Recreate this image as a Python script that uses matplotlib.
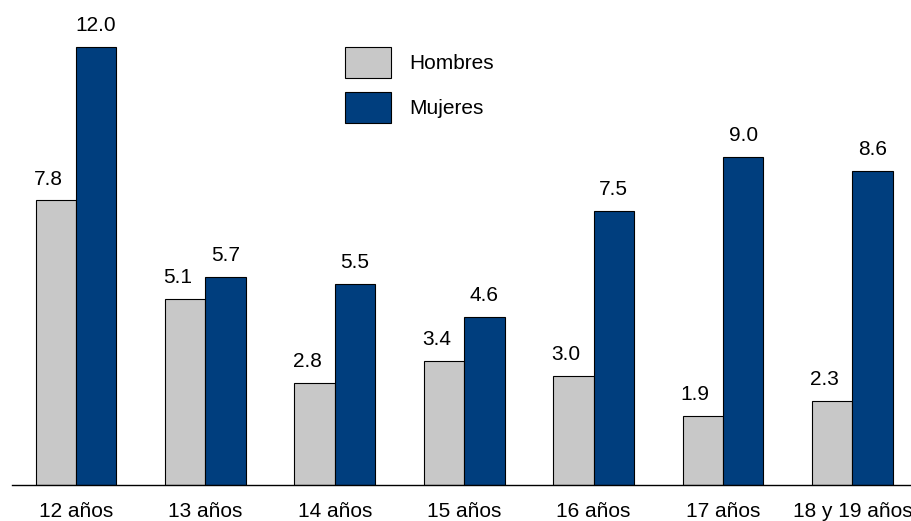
import matplotlib.pyplot as plt
import numpy as np

plt.rcParams['font.family'] = ['Liberation Sans', 'DejaVu Sans']

categorias = ["12 años", "13 años", "14 años", "15 años", "16 años", "17 años", "18 y 19 años"]
hombres = [7.8, 5.1, 2.8, 3.4, 3.0, 1.9, 2.3]
mujeres = [12.0, 5.7, 5.5, 4.6, 7.5, 9.0, 8.6]

gris = "#C8C8C8"
azul = "#003E7E"

fig = plt.figure(figsize=(9.12, 5.21), dpi=100)
ax = fig.add_axes([12/912, 1 - 485/521, 1 - 12/912, 485/521])

x = np.arange(len(categorias))
w = 0.312
b1 = ax.bar(x - w/2, hombres, w, color=gris, edgecolor="black", linewidth=0.8, label="Hombres")
b2 = ax.bar(x + w/2, mujeres, w, color=azul, edgecolor="black", linewidth=0.8, label="Mujeres")

# etiquetas de hombres algo corridas a la izquierda, como en el original
for barras, vals, dx in [(b1, hombres, -5.5), (b2, mujeres, 0)]:
    for r, v in zip(barras, vals):
        ax.annotate(f"{v:.1f}", (r.get_x() + r.get_width()/2, r.get_height()),
                    xytext=(dx, 8.5), textcoords="offset points",
                    ha="center", va="bottom", fontsize=15)

ax.set_xlim(-0.494, 6.46)
ax.set_ylim(0, 13.29)
ax.set_xticks(x)
ax.set_xticklabels(categorias, fontsize=15)
ax.tick_params(axis="x", length=0, pad=12)
ax.set_yticks([])
for s in ["top", "left", "right"]:
    ax.spines[s].set_visible(False)
ax.spines["bottom"].set_linewidth(1.0)

ax.legend(loc="upper left", bbox_to_anchor=(345/912, 1 - 47/521), bbox_transform=fig.transFigure,
          frameon=False, fontsize=15, handlelength=2.2, handleheight=1.92,
          labelspacing=0.67, handletextpad=0.87, borderpad=0, borderaxespad=0)

plt.savefig("out.png", dpi=100)
